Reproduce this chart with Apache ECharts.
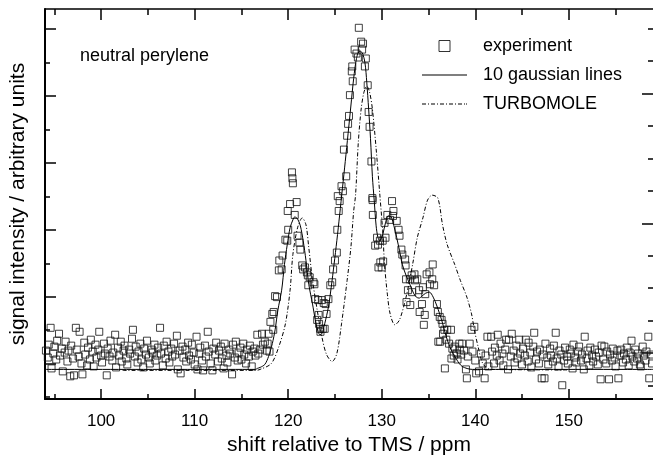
<!DOCTYPE html>
<html><head><meta charset="utf-8">
<script src="https://cdn.jsdelivr.net/npm/echarts@6/dist/echarts.min.js"></script>
<style>html,body{margin:0;padding:0;background:#fff}#c{width:653px;height:461px}</style>
</head><body><div id="c"></div>
<script>
// tick positions
const xTicksMajor = [100,110,120,130,140,150];
const xTicksMinor = [95,105,115,125,135,145,155];
const yLeftMajor = [3.58,10.34,17.1,23.86,30.62,37.38];
const yLeftMinor = [0.2,6.96,13.72,20.48,27.24,34.0];
const yRightMajor = [4.65,17.75,30.85];
const yRightMinor = [1.375,7.925,11.2,14.475,21.025,24.3,27.575,34.125,37.4];

// experiment: [shift ppm, intensity]
const experiment = [
[94.1,4.9],[94.3,4.2],[94.4,5.5],[94.6,7.2],[94.7,3.1],[94.9,4.6],[95.0,5.3],[95.2,4.0],[95.3,5.9],[95.5,6.6],
[95.6,4.4],[95.8,5.1],[95.9,2.8],[96.1,4.7],[96.2,5.8],[96.4,3.8],[96.5,4.9],[96.7,2.3],[96.8,5.4],[97.0,4.1],
[97.1,2.4],[97.3,7.2],[97.4,5.0],[97.6,4.3],[97.7,6.8],[97.9,3.6],[98.0,2.5],[98.2,5.7],[98.3,4.5],[98.5,3.4],
[98.6,5.2],[98.8,4.0],[98.9,6.0],[99.1,4.8],[99.2,3.3],[99.4,5.5],[99.5,4.2],[99.7,5.0],[99.8,6.8],[100.0,4.4],
[100.1,3.7],[100.3,5.6],[100.4,4.6],[100.6,2.4],[100.7,5.1],[100.9,4.3],[101.0,5.9],[101.2,3.9],[101.3,4.7],[101.5,6.5],
[101.6,3.2],[101.8,5.2],[101.9,4.4],[102.1,5.8],[102.2,3.8],[102.4,4.9],[102.5,5.4],[102.7,4.1],[102.8,3.5],[103.0,5.0],
[103.1,4.6],[103.3,6.1],[103.4,7.0],[103.6,4.3],[103.7,5.3],[103.9,3.7],[104.0,4.8],[104.2,5.6],[104.3,4.0],[104.5,3.2],
[104.6,5.1],[104.8,4.5],[104.9,5.9],[105.1,4.2],[105.2,3.6],[105.4,5.0],[105.5,4.7],[105.7,5.5],[105.8,3.9],[106.0,4.4],
[106.1,5.2],[106.3,7.2],[106.4,4.6],[106.6,3.4],[106.7,5.4],[106.9,4.1],[107.0,5.8],[107.2,4.8],[107.3,3.7],[107.5,5.1],
[107.6,4.3],[107.8,5.6],[107.9,4.5],[108.1,6.4],[108.2,3.0],[108.4,4.9],[108.5,2.6],[108.7,5.3],[108.8,4.2],[109.0,5.0],
[109.1,3.8],[109.3,5.7],[109.4,4.4],[109.6,4.0],[109.7,5.5],[109.9,4.7],[110.0,3.5],[110.2,6.3],[110.3,3.0],[110.5,4.6],
[110.6,5.2],[110.8,3.9],[110.9,2.9],[111.1,5.4],[111.2,4.3],[111.4,6.8],[111.5,4.8],[111.7,3.6],[111.9,2.9],[112.0,5.1],
[112.2,4.5],[112.3,5.7],[112.5,3.8],[112.6,4.9],[112.8,5.3],[112.9,4.1],[113.1,3.1],[113.2,5.6],[113.4,4.4],[113.5,3.7],
[113.7,5.0],[113.8,4.6],[114.0,2.5],[114.1,5.5],[114.3,4.2],[114.4,5.8],[114.6,3.9],[114.7,4.7],[114.9,5.2],[115.0,4.0],
[115.2,5.6],[115.3,4.5],[115.5,3.6],[115.6,5.0],[115.8,4.3],[115.9,5.4],[116.1,3.3],[116.2,4.8],[116.4,5.1],[116.5,4.4],
[116.7,6.5],[116.8,4.6],[117.0,5.0],[117.2,6.6],[117.3,5.5],[117.5,5.8],[117.7,4.9],[117.8,5.6],[117.9,6.6],[118.0,4.8],
[118.1,7.8],[118.3,8.6],[118.4,7.0],[118.45,8.8],[118.6,10.4],[118.8,10.3],[119.0,13.0],[119.05,14.0],[119.3,13.1],[119.4,14.5],
[119.7,16.1],[119.9,16.0],[119.95,19.0],[120.0,17.1],[120.2,19.7],[120.4,22.9],[120.45,22.3],[120.5,21.8],[120.7,18.6],[120.9,19.9],
[121.0,16.5],[121.2,15.8],[121.3,15.1],[121.5,13.5],[121.6,13.1],[121.8,13.3],[122.0,12.8],[122.1,12.5],[122.15,11.5],[122.3,12.3],
[122.7,11.8],[122.8,11.6],[122.9,10.1],[123.1,8.0],[123.2,10.0],[123.25,8.5],[123.3,7.6],[123.4,7.1],[123.45,6.8],[123.6,10.0],
[123.7,7.1],[123.8,9.7],[123.9,7.1],[124.0,9.6],[124.1,8.6],[124.3,10.1],[124.5,11.5],[124.7,11.8],[124.8,13.1],[125.0,14.0],
[125.2,14.8],[125.25,17.1],[125.3,20.5],[125.4,19.0],[125.5,20.0],[125.7,21.5],[125.85,21.0],[125.96,25.2],[126.2,22.5],[126.3,26.6],
[126.4,27.8],[126.5,28.6],[126.6,30.7],[126.8,33.1],[126.85,33.6],[126.9,32.1],[127.1,35.3],[127.3,34.9],[127.45,34.5],[127.55,37.5],
[127.8,36.1],[127.9,35.3],[128.0,35.9],[128.2,33.6],[128.3,34.4],[128.5,31.7],[128.6,29.0],[128.7,27.5],[128.9,24.0],[129.0,20.3],
[129.02,20.1],[129.05,18.6],[129.3,15.5],[129.5,16.3],[129.6,15.6],[129.65,13.3],[129.8,16.0],[129.85,13.8],[130.0,13.3],[130.1,16.0],
[130.15,13.9],[130.3,17.8],[130.4,16.3],[130.6,18.6],[130.9,18.1],[131.1,20.0],[131.2,18.5],[131.25,19.0],[131.6,18.0],[131.8,17.1],
[131.9,16.5],[132.1,15.1],[132.2,14.6],[132.5,14.1],[132.55,13.5],[132.6,12.1],[132.65,9.8],[132.8,11.0],[133.0,12.1],[133.05,9.5],
[133.2,12.5],[133.25,10.8],[133.5,12.6],[133.55,12.0],[133.8,12.1],[134.0,11.0],[134.05,8.8],[134.3,9.6],[134.4,11.3],[134.5,7.5],
[134.6,8.5],[134.65,10.6],[134.8,12.6],[135.1,12.8],[135.15,11.6],[135.4,12.1],[135.45,13.6],[135.6,11.5],[135.9,9.6],[136.0,8.8],
[136.05,5.8],[136.2,8.3],[136.25,5.8],[136.4,8.0],[136.5,7.6],[136.55,6.6],[136.7,7.0],[136.75,3.1],[136.9,6.0],[137.0,7.0],
[137.2,5.6],[137.4,7.0],[137.45,4.1],[137.55,5.1],[137.7,4.4],[137.8,5.3],[138.0,4.6],[138.1,4.0],[138.3,5.6],[138.35,5.0],
[138.5,4.5],[138.6,5.6],[138.8,4.9],[139.0,3.0],[139.1,2.1],[139.2,4.3],[139.4,5.6],[139.6,7.0],[139.7,4.8],[139.9,7.3],
[140.0,3.9],[140.1,2.6],[140.4,2.8],[140.6,4.6],[140.8,3.6],[141.0,2.1],[141.1,4.4],[141.3,6.3],[141.4,3.3],[141.7,6.3],
[141.8,4.8],[142.0,3.6],[142.1,5.2],[142.3,4.4],[142.4,6.5],[142.6,3.9],[142.7,5.6],[142.9,4.6],[143.0,3.4],[143.2,5.0],
[143.3,6.0],[143.5,3.0],[143.6,6.0],[143.8,4.3],[143.9,6.6],[144.1,4.9],[144.2,3.7],[144.4,5.4],[144.5,4.1],[144.7,6.0],
[144.8,4.6],[145.0,3.5],[145.1,5.1],[145.3,4.4],[145.4,6.0],[145.6,3.8],[145.7,5.7],[145.9,4.7],[146.0,3.2],[146.2,5.3],
[146.3,6.7],[146.5,4.0],[146.6,4.8],[146.8,3.6],[146.9,5.0],[147.1,2.1],[147.2,4.5],[147.4,2.1],[147.5,5.6],[147.7,4.2],
[147.8,3.5],[148.0,5.1],[148.1,4.4],[148.3,3.8],[148.4,5.4],[148.6,6.7],[148.7,4.1],[148.9,3.3],[149.0,4.9],[149.2,4.5],
[149.3,1.4],[149.5,3.9],[149.6,5.2],[149.8,4.3],[149.9,3.6],[150.1,5.0],[150.2,4.6],[150.4,3.1],[150.5,5.5],[150.7,4.2],
[150.8,3.7],[151.0,4.8],[151.1,5.3],[151.3,3.9],[151.4,4.5],[151.6,3.0],[151.7,6.3],[151.9,4.1],[152.0,4.9],[152.2,3.4],
[152.3,5.2],[152.5,4.4],[152.6,3.8],[152.8,5.0],[152.9,4.3],[153.1,3.5],[153.2,4.7],[153.4,2.0],[153.5,5.4],[153.7,4.0],
[153.8,5.3],[154.0,3.6],[154.1,4.8],[154.3,2.0],[154.4,4.5],[154.6,3.9],[154.7,5.1],[154.9,4.2],[155.0,3.3],[155.2,4.9],
[155.3,2.1],[155.5,4.4],[155.6,5.0],[155.8,3.7],[155.9,4.6],[156.1,4.0],[156.2,5.2],[156.4,3.4],[156.5,4.7],[156.7,5.9],
[156.8,4.3],[157.0,3.8],[157.1,5.0],[157.3,4.1],[157.4,4.6],[157.6,3.5],[157.7,3.3],[157.9,5.3],[158.0,4.4],[158.2,3.9],
[158.3,4.8],[158.5,6.3],[158.6,2.1],[158.8,4.5],[158.9,3.6]
];

// fit with 10 gaussian lines
const gaussFit = [
[94.0,3.0],[116.5,3.0],[116.7,3.1],[117.0,3.2],[117.5,3.5],[117.9,4.3],[118.3,5.6],[118.6,7.0],[118.9,9.0],[119.3,11.0],
[119.6,13.6],[119.9,15.6],[120.2,17.3],[120.5,18.1],[120.7,18.4],[121.0,18.2],[121.3,17.5],[121.6,16.0],[121.9,14.0],[122.2,11.6],
[122.6,9.6],[122.9,8.0],[123.2,6.8],[123.4,6.5],[123.6,6.6],[123.9,7.6],[124.3,9.3],[124.6,11.3],[124.9,13.6],[125.2,16.0],
[125.5,18.6],[125.8,21.3],[126.1,24.0],[126.4,26.8],[126.7,29.6],[127.0,32.4],[127.3,34.4],[127.6,35.1],[127.9,35.0],[128.2,34.0],
[128.4,32.0],[128.6,29.3],[128.8,26.3],[129.0,22.5],[129.2,20.0],[129.4,17.5],[129.6,16.3],[129.8,16.0],[130.1,16.6],[130.4,17.8],
[130.7,18.5],[131.0,18.4],[131.3,17.5],[131.6,16.3],[131.9,15.0],[132.2,13.6],[132.6,12.5],[133.0,11.6],[133.4,10.7],[133.7,10.3],
[134.0,10.2],[134.3,10.4],[134.7,10.7],[135.1,10.8],[135.5,10.3],[135.9,9.4],[136.4,8.0],[136.9,6.3],[137.4,5.0],[138.0,4.0],
[138.6,3.3],[139.7,3.0],[159.0,3.0]
];

// TURBOMOLE calculation
const turbomole = [
[102.3,2.9],[116.5,2.9],[117.0,3.0],[118.2,3.6],[119.0,5.3],[119.7,7.6],[120.2,11.0],[120.5,14.6],[121.0,17.3],[121.5,18.3],
[121.9,17.6],[122.2,15.3],[122.6,12.0],[123.1,9.0],[123.6,6.3],[124.1,4.5],[124.7,3.8],[125.2,4.6],[125.7,7.6],[126.3,12.0],
[126.7,15.3],[127.0,19.0],[127.2,20.6],[127.5,26.0],[127.8,29.3],[128.1,31.0],[128.4,31.6],[128.7,31.0],[129.0,29.3],[129.4,25.3],
[129.8,20.6],[130.1,17.0],[130.3,13.6],[130.6,10.6],[130.9,8.6],[131.4,7.5],[131.9,8.0],[132.6,10.3],[133.3,13.6],[133.8,16.3],
[134.4,18.3],[134.9,20.1],[135.4,20.6],[136.0,20.3],[136.5,17.6],[137.0,15.6],[137.8,13.6],[138.4,12.0],[139.1,10.3],[139.6,8.6],
[139.9,7.0],[140.3,5.3],[140.8,3.6],[141.6,3.0],[150.0,2.95]
];

const FONT = 'Liberation Sans, Arial, sans-serif';
// legend glyphs (legend box only)
const ICON_SQUARE = 'path://M0,0L10,0L10,10L0,10Z';
const ICON_SOLID = 'path://M0,0L45,0L45,1L0,1Z';
const ICON_DASHDOT = 'path://M0,0h4v1h-4zM6,0h1v1h-1zM9,0h4v1h-4zM15,0h1v1h-1zM18,0h4v1h-4zM24,0h1v1h-1zM27,0h4v1h-4zM33,0h1v1h-1zM36,0h4v1h-4zM42,0h1v1h-1zM44,0h1v1h-1z';

const chart = echarts.init(document.getElementById('c'), null, {renderer: 'canvas'});

function xAx(pos, ticks, len, showLine, lineW, labels) {
  return {
    type: 'value', position: pos, min: 94, max: 159, gridIndex: 0,
    axisLine: {show: showLine, onZero: false, lineStyle: {color: '#000', width: lineW}},
    axisTick: {show: true, inside: true, length: len, customValues: ticks, lineStyle: {color: '#000', width: 1.5}},
    axisLabel: labels ? {show: true, customValues: ticks, fontSize: 17, color: '#000', fontFamily: FONT, margin: 14} : {show: false},
    splitLine: {show: false}
  };
}
function yAx(pos, ticks, len, showLine) {
  return {
    type: 'value', position: pos, min: 0, max: 39.4, gridIndex: 0,
    axisLine: {show: showLine, onZero: false, lineStyle: {color: '#000', width: 2}},
    axisTick: {show: true, inside: true, length: len, customValues: ticks, lineStyle: {color: '#000', width: 1.5}},
    axisLabel: {show: false},
    splitLine: {show: false}
  };
}

const xa0 = xAx('bottom', xTicksMajor, 10, true, 2, true);
xa0.name = 'shift relative to TMS / ppm';
xa0.nameLocation = 'middle';
xa0.nameGap = 33;
xa0.nameTextStyle = {fontSize: 21, color: '#000', fontFamily: FONT};
const ya0 = yAx('left', yLeftMajor, 11, true);
ya0.name = 'signal intensity / arbitrary units';
ya0.nameLocation = 'middle';
ya0.nameGap = 16;
ya0.nameTextStyle = {fontSize: 21, color: '#000', fontFamily: FONT};

chart.setOption({
  animation: false,
  backgroundColor: '#fff',
  grid: [{left: 43.6, right: -1.6, top: 9, bottom: 58, containLabel: false}],
  title: {text: 'neutral perylene', left: 80, top: 47, padding: 0,
    textStyle: {fontSize: 18, fontWeight: 'normal', color: '#000', fontFamily: FONT}},
  legend: {
    orient: 'vertical', left: 422, top: 37, padding: 0, itemGap: 11,
    itemWidth: 45, itemHeight: 11, selectedMode: false, symbolKeepAspect: true,
    textStyle: {fontSize: 18, color: '#000', fontFamily: FONT, padding: [0, 0, 0, 11]},
    data: [
      {name: 'experiment', icon: ICON_SQUARE, itemStyle: {color: '#fff', borderColor: '#000', borderWidth: 1}},
      {name: '10 gaussian lines', icon: ICON_SOLID, itemStyle: {color: '#000', borderWidth: 0}},
      {name: 'TURBOMOLE', icon: ICON_DASHDOT, itemStyle: {color: '#000', borderWidth: 0}}
    ]
  },
  xAxis: [xa0, xAx('bottom', xTicksMinor, 5, false, 2, false),
          xAx('top', xTicksMajor, 11, true, 1.5, false), xAx('top', xTicksMinor, 6, false, 1.5, false)],
  yAxis: [ya0, yAx('left', yLeftMinor, 5, false),
          yAx('right', yRightMajor, 11, false), yAx('right', yRightMinor, 5, false)],
  series: [
    {name: '10 gaussian lines', type: 'line', xAxisIndex: 0, yAxisIndex: 0, data: gaussFit,
     showSymbol: false, symbol: 'none', smooth: 0.3, lineStyle: {color: '#000', width: 1}, itemStyle: {color: '#000'}},
    {name: 'TURBOMOLE', type: 'line', xAxisIndex: 0, yAxisIndex: 0, data: turbomole,
     showSymbol: false, symbol: 'none', smooth: 0.3, lineStyle: {color: '#000', width: 1, type: [4, 2, 1, 2]}, itemStyle: {color: '#000'}},
    {name: 'experiment', type: 'scatter', xAxisIndex: 0, yAxisIndex: 0, data: experiment,
     symbol: 'rect', symbolSize: 7,
     itemStyle: {color: 'rgba(255,255,255,0)', borderColor: '#111', borderWidth: 1}}
  ]
});
</script></body></html>
